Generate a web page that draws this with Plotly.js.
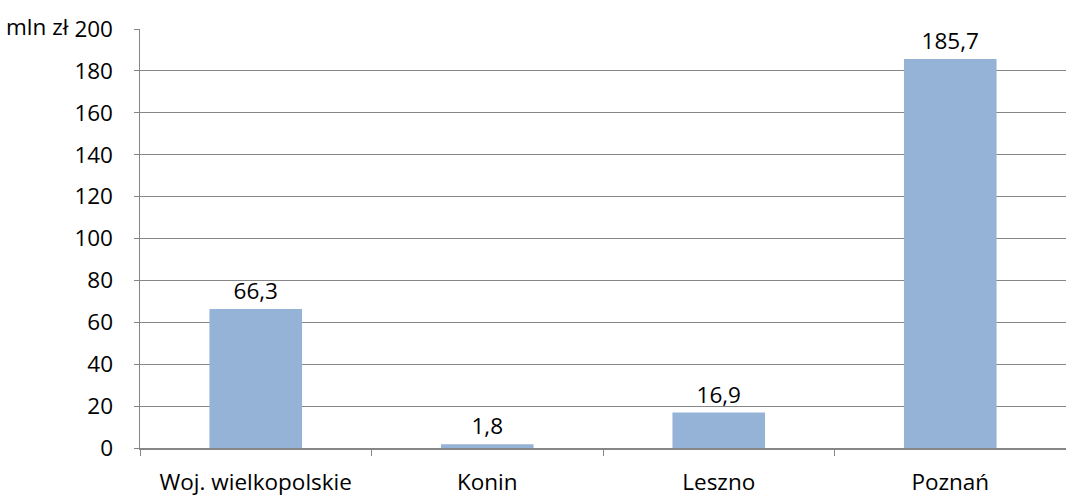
<!DOCTYPE html>
<html><head><meta charset="utf-8">
<script src="https://cdn.plot.ly/plotly-3.0.1.min.js"></script>
<style>html,body{margin:0;padding:0;background:#fff}#chart{width:1066px;height:495px}</style>
</head><body><div id="chart"></div>
<script>
const categories = ["Woj. wielkopolskie", "Konin", "Leszno", "Poznań"];
const values = [66.3, 1.8, 16.9, 185.7];
const valueLabels = ["66,3", "1,8", "16,9", "185,7"];
const yTicks = [0, 20, 40, 60, 80, 100, 120, 140, 160, 180, 200];
const unitLabel = "mln zł";

const font = {family: "Open Sans, Liberation Sans, sans-serif", size: 22.5, color: "#000"};
Plotly.newPlot("chart", [{
  type: "bar", x: categories, y: values,
  text: valueLabels, textposition: "outside", cliponaxis: false,
  textfont: font,
  marker: {color: "#95B3D7"}, width: 0.4, hoverinfo: "none"
}], {
  width: 1066, height: 495,
  margin: {l: 140, r: 0, t: 29, b: 47},
  paper_bgcolor: "#fff", plot_bgcolor: "#fff",
  font: font, showlegend: false,
  separators: ", ",
  xaxis: {type: "category", showline: true, linecolor: "#868686", linewidth: 1.5,
    ticks: "outside", tickson: "boundaries", ticklen: 6, tickcolor: "#868686",
    ticklabelstandoff: 13,
    showgrid: false, zeroline: false, tickfont: font},
  yaxis: {range: [0, 200], tickvals: yTicks, showline: true, linecolor: "#868686", linewidth: 1.5,
    ticks: "outside", ticklen: 5, tickcolor: "#868686", ticklabelstandoff: 16,
    showgrid: true, gridcolor: "#868686", gridwidth: 1, zeroline: false, tickfont: font},
  annotations: [{text: unitLabel, xref: "paper", yref: "paper", x: -136/926, y: 1.0,
    xanchor: "left", yanchor: "middle", yshift: 3, showarrow: false, font: font}]
}, {displayModeBar: false, staticPlot: true});
</script></body></html>
